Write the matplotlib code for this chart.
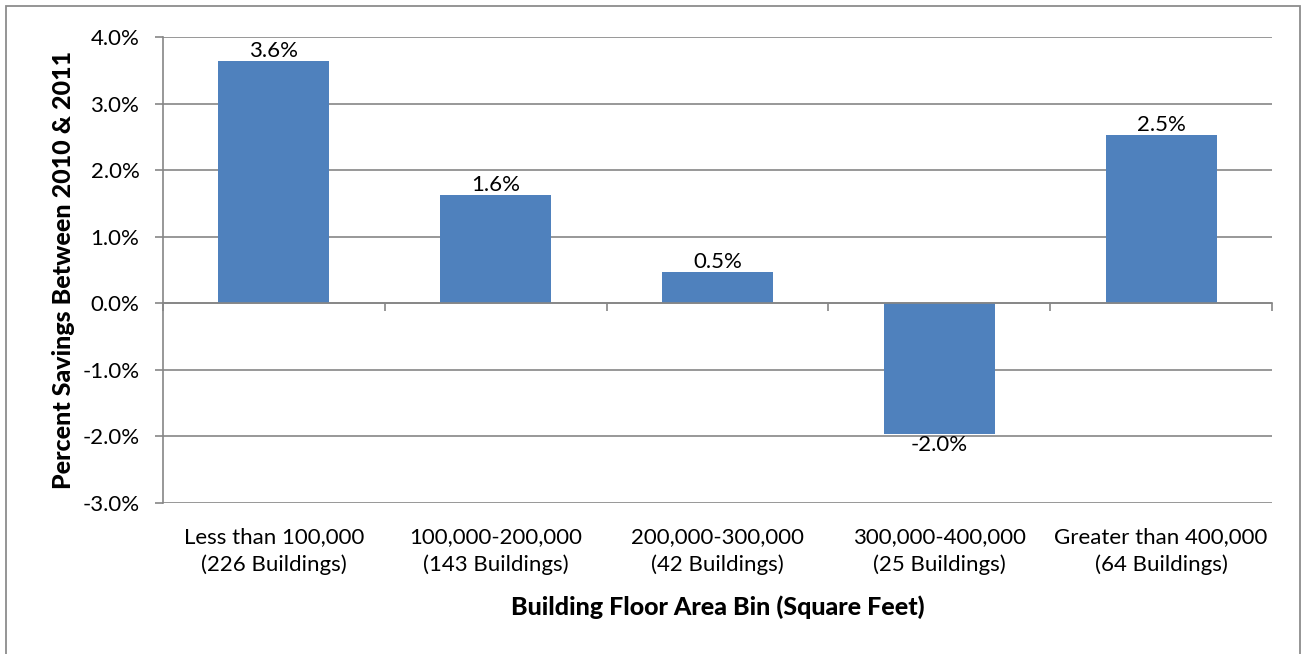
import matplotlib
matplotlib.use('Agg')
import matplotlib.pyplot as plt
from matplotlib.patches import Rectangle
from matplotlib.transforms import blended_transform_factory

# Datos del gráfico
categorias = ['Less than 100,000\n(226 Buildings)',
              '100,000-200,000\n(143 Buildings)',
              '200,000-300,000\n(42 Buildings)',
              '300,000-400,000\n(25 Buildings)',
              'Greater than 400,000\n(64 Buildings)']
ahorro = [3.64, 1.63, 0.47, -1.96, 2.53]
ticks_y = [-3, -2, -1, 0, 1, 2, 3, 4]

plt.rcParams['font.family'] = ['Lato', 'DejaVu Sans']

fig = plt.figure(figsize=(13.05, 6.54), dpi=100)
ax = fig.add_axes([163 / 1305, 1 - 503 / 654, (1272 - 163) / 1305, (503 - 37) / 654])

# Marco exterior del gráfico
fig.patches.append(Rectangle((6 / 1305, -0.02), 1294 / 1305, 1 - 6 / 654 + 0.02,
                             transform=fig.transFigure, fill=False,
                             edgecolor='#8c8c8c', linewidth=1.3))

x = list(range(len(categorias)))
barras = ax.bar(x, ahorro, width=0.5, color='#4F81BD', zorder=3)

# Etiquetas de valor
for xi, v in zip(x, ahorro):
    ax.annotate(f'{v:.1f}%', (xi, v), xytext=(0, 0 if v >= 0 else -1),
                textcoords='offset points', ha='center',
                va='bottom' if v >= 0 else 'top', fontsize=16, color='black')

ax.set_xlim(-0.5, len(categorias) - 0.5)
ax.set_ylim(-3, 4)
ax.set_yticks(ticks_y)
ax.set_yticklabels([f'{t:.1f}%' for t in ticks_y], fontsize=16)
ax.yaxis.grid(True, color='#868686', linewidth=1.2, zorder=0)

# Eje x en el cero con marcas entre categorías
ax.spines['bottom'].set_position(('data', 0))
ax.spines['top'].set_visible(False)
ax.spines['right'].set_visible(False)
for s in ['bottom', 'left']:
    ax.spines[s].set_color('#868686')
    ax.spines[s].set_linewidth(1.2)
    ax.spines[s].set_zorder(4)
ax.set_xticks([i - 0.5 for i in range(len(categorias) + 1)])
ax.set_xticklabels([])
ax.tick_params(axis='x', direction='out', length=6, width=1.2, color='#868686')
ax.tick_params(axis='y', direction='out', length=6, width=1.2, color='#868686', pad=11)

# Nombres de categoría bajo el gráfico
trans = blended_transform_factory(ax.transData, ax.transAxes)
for xi, c in zip(x, categorias):
    ax.text(xi, -0.052, c, transform=trans, ha='center', va='top',
            fontsize=16, linespacing=1.45)

ax.set_ylabel('Percent Savings Between 2010 & 2011', fontsize=18,
              fontweight='black')
ax.yaxis.set_label_coords(-0.079, 0.5)
fig.text((163 + 1272) / 2 / 1305, 1 - 607 / 654, 'Building Floor Area Bin (Square Feet)',
         ha='center', va='center', fontsize=18, fontweight='black')

fig.savefig('out.png', dpi=100)
